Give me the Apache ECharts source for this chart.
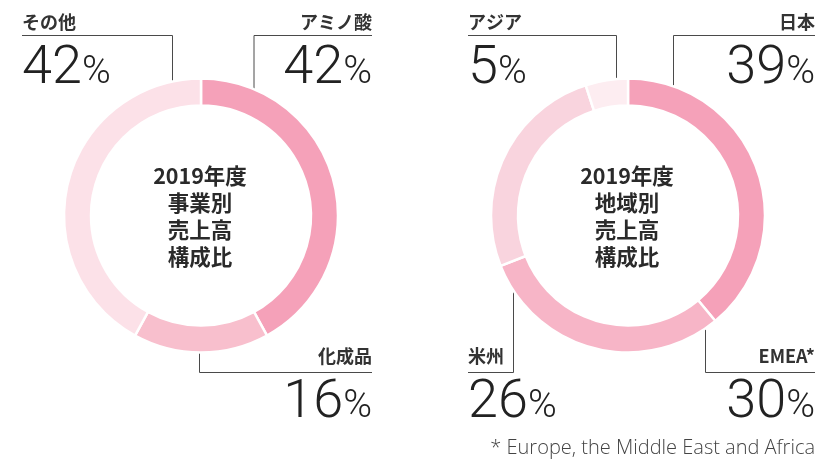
<!DOCTYPE html>
<html>
<head>
<meta charset="utf-8">
<script src="https://cdn.jsdelivr.net/npm/echarts@6/dist/echarts.min.js"></script>
<style>
  html, body { margin: 0; padding: 0; background: #fff; }
  #chart { width: 818px; height: 461px; }
</style>
</head>
<body>
<div id="chart"></div>
<script>
// FY2019 sales composition: by business segment and by region (%)
const segmentNames = ['アミノ酸', '化成品', 'その他'];
const segmentValues = [42, 16, 42];
const regionNames = ['日本', 'EMEA*', '米州', 'アジア'];
const regionValues = [39, 30, 26, 5];

const segmentTitle = '2019年度\n事業別\n売上高\n構成比';
const regionTitle = '2019年度\n地域別\n売上高\n構成比';
const footnote = '* Europe, the Middle East and Africa';

const segmentColors = ['#F5A1B9', '#F8BFCD', '#FCE1E8'];
const regionColors = ['#F5A1B9', '#F7B5C7', '#F9D4DE', '#FDEDF1'];

// Callout placement for each slice: text anchor and leader line path
const callouts = {
  'アミノ酸': { x: 372, y: 9, align: 'right', line: [[254, 99], [254, 35.5], [372, 35.5]] },
  'その他':   { x: 22,  y: 9, align: 'left',  line: [[172.5, 99], [172.5, 35.5], [22, 35.5]] },
  '化成品':   { x: 372, y: 343, align: 'right', line: [[199.5, 343], [199.5, 372.5], [372, 372.5]] },
  '日本':     { x: 815, y: 9, align: 'right', line: [[673.5, 99], [673.5, 35.5], [815, 35.5]] },
  'アジア':   { x: 468, y: 9, align: 'left',  line: [[616.5, 99], [616.5, 35.5], [468, 35.5]] },
  'EMEA*':    { x: 815, y: 343, align: 'right', line: [[705.5, 323], [705.5, 372.5], [815, 372.5]] },
  '米州':     { x: 468, y: 343, align: 'left',  line: [[513.5, 235], [513.5, 372.5], [468, 372.5]] }
};

const nameFont = '"Noto Sans CJK JP", "Noto Sans", sans-serif';
const numFont = 'Roboto, "Liberation Sans", sans-serif';

function ringSeries(names, values, colors, cx) {
  return {
    type: 'pie',
    center: [cx, 215.5],
    radius: [110, 137],
    startAngle: 90,
    clockwise: true,
    silent: true,
    animation: false,
    avoidLabelOverlap: false,
    itemStyle: { borderColor: '#fff', borderWidth: 2.5 },
    label: {
      show: true,
      position: 'outside',
      width: 170,
      overflow: 'none',
      formatter: p => `{n|${p.name}}\n{v|${p.value}}{p|%}`,
      rich: {
        n: { fontFamily: nameFont, fontSize: 18, fontWeight: 'bold', color: '#333', lineHeight: 26 },
        v: { fontFamily: numFont, fontSize: 54, fontWeight: 300, color: '#222', lineHeight: 69 },
        p: {
          fontFamily: numFont, fontSize: 39, fontWeight: 300, color: '#222',
          lineHeight: 58, padding: [0, 0, 11, 0], verticalAlign: 'bottom'
        }
      }
    },
    labelLine: { show: true, lineStyle: { color: '#4a4a4a', width: 1 } },
    data: names.map((n, i) => ({ name: n, value: values[i], itemStyle: { color: colors[i] } })),
    // Leader lines and callouts sit at fixed spots per slice name
    labelLayout: function (params) {
      const c = callouts[names[params.dataIndex]];
      return {
        x: c.x,
        y: c.y,
        align: c.align,
        verticalAlign: 'top',
        labelLinePoints: c.line,
        hideOverlap: false,
        moveOverlap: false
      };
    }
  };
}

const centerTextStyle = {
  fontFamily: nameFont, fontSize: 21.5, fontWeight: 'bold',
  lineHeight: 27, fill: '#2a2a2a', align: 'center', verticalAlign: 'middle'
};

const chart = echarts.init(document.getElementById('chart'), null, { renderer: 'canvas' });

chart.setOption({
  backgroundColor: '#fff',
  animation: false,
  series: [
    ringSeries(segmentNames, segmentValues, segmentColors, 201),
    ringSeries(regionNames, regionValues, regionColors, 628)
  ],
  graphic: [
    { type: 'text', x: 200, y: 216, style: Object.assign({ text: segmentTitle }, centerTextStyle) },
    { type: 'text', x: 627, y: 216, style: Object.assign({ text: regionTitle }, centerTextStyle) },
    {
      type: 'text', x: 815, y: 448,
      style: {
        text: footnote, fontFamily: '"Open Sans", "Noto Sans", sans-serif', fontSize: 20, fontWeight: 300,
        fill: '#444', align: 'right', verticalAlign: 'middle'
      }
    }
  ]
});
</script>
</body>
</html>
